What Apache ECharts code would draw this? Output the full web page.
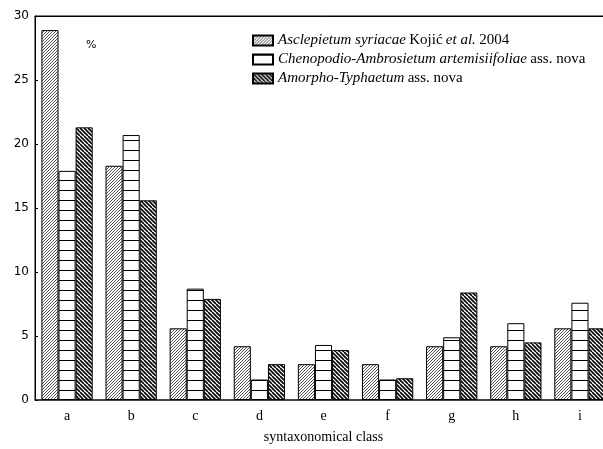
<!DOCTYPE html>
<html><head><meta charset="utf-8">
<script src="https://cdn.jsdelivr.net/npm/echarts@6/dist/echarts.min.js"></script>
<style>html,body{margin:0;padding:0;background:#fff;overflow:hidden;width:603px;height:449px}#c{width:612px;height:449px}</style>
</head><body><div id="c"></div>
<script>
var categories = ['a','b','c','d','e','f','g','h','i'];
var asclepietum = [28.9, 18.3, 5.6, 4.2, 2.8, 2.8, 4.2, 4.2, 5.6];
var chenopodio = [17.9, 20.7, 8.7, 1.6, 4.3, 1.6, 4.9, 6.0, 7.6];
var amorpho = [21.3, 15.6, 7.9, 2.8, 3.9, 1.7, 8.4, 4.5, 5.6];
var yTicks = [0, 5, 10, 15, 20, 25, 30];

function makePattern(kind) {
  var c = document.createElement('canvas');
  var s = kind === 'h' ? 10 : (kind === 'f' ? 6 : 8);
  c.width = s; c.height = s;
  var g = c.getContext('2d');
  g.fillStyle = '#fff'; g.fillRect(0, 0, s, s);
  if (kind === 'h') {
    g.fillStyle = '#000'; g.fillRect(0, 0, s, 1);
  } else if (kind === 'f') {
    g.strokeStyle = '#555'; g.lineWidth = 1;
    for (var o = -6; o <= 12; o += 3) { g.beginPath(); g.moveTo(o, 6); g.lineTo(o + 6, 0); g.stroke(); }
  } else {
    g.strokeStyle = '#000'; g.lineWidth = 1.6;
    for (var o2 = -8; o2 <= 16; o2 += 4) { g.beginPath(); g.moveTo(o2, 0); g.lineTo(o2 + 8, 8); g.stroke(); }
  }
  return { image: c, repeat: 'repeat' };
}

var legendText = {
  s1: '{i|Asclepietum syriacae} {r|Kojić} {i|et al.} {r|2004}',
  s2: '{i|Chenopodio-Ambrosietum artemisiifoliae} {r|ass. nova}',
  s3: '{i|Amorpho-Typhaetum} {r|ass. nova}'
};
var serif = 'Liberation Serif';
var chart = echarts.init(document.getElementById('c'), null, { renderer: 'canvas' });
var barStyle = function (k) { return { color: makePattern(k), borderColor: '#000', borderWidth: 1 }; };
chart.setOption({
  animation: false,
  backgroundColor: '#fff',
  grid: { left: 35, top: 16, bottom: 49, right: 0, outerBoundsMode: 'none', containLabel: false,
    show: true, borderColor: '#000', borderWidth: 1, backgroundColor: 'transparent' },
  legend: {
    orient: 'vertical', left: 252, top: 33, padding: 0, itemWidth: 20, itemHeight: 10, itemGap: 4,
    icon: 'rect', selectedMode: false,
    formatter: function (n) { return legendText[n]; },
    textStyle: {
      rich: {
        i: { fontFamily: serif, fontStyle: 'italic', fontSize: 15, color: '#000', lineHeight: 16 },
        r: { fontFamily: serif, fontSize: 15, color: '#000', lineHeight: 16 }
      }
    },
    data: ['s1', 's2', 's3']
  },
  graphic: [{ type: 'text', left: 86, top: 40, style: { text: '%', fontFamily: 'DejaVu Sans', fontSize: 11, fill: '#000' } }],
  xAxis: [{
    type: 'category', data: categories, position: 'bottom',
    axisLine: { lineStyle: { color: '#333', width: 1.5 } },
    axisTick: { inside: true, length: 3, lineStyle: { color: '#000' } },
    axisLabel: { fontFamily: serif, fontSize: 14, color: '#000', margin: 9 },
    name: 'syntaxonomical class', nameLocation: 'middle', nameGap: 30,
    nameTextStyle: { fontFamily: serif, fontSize: 14, color: '#000' }
  }, {
    type: 'category', data: categories, position: 'top',
    axisLine: { lineStyle: { color: '#000' } },
    axisTick: { inside: true, length: 3, lineStyle: { color: '#000' } },
    axisLabel: { show: false }
  }],
  yAxis: {
    type: 'value', min: yTicks[0], max: yTicks[yTicks.length - 1], interval: 5,
    axisLine: { show: true, lineStyle: { color: '#000' } },
    axisTick: { show: true, inside: true, length: 3, lineStyle: { color: '#000' } },
    splitLine: { show: false },
    axisLabel: { fontFamily: 'DejaVu Sans', fontSize: 12, color: '#000', margin: 6 }
  },
  series: [
    { name: 's1', type: 'bar', data: asclepietum, barGap: '0%', barCategoryGap: '20%', itemStyle: barStyle('f') },
    { name: 's2', type: 'bar', data: chenopodio, barGap: '0%', barCategoryGap: '20%', itemStyle: barStyle('h') },
    { name: 's3', type: 'bar', data: amorpho, barGap: '0%', barCategoryGap: '20%', itemStyle: barStyle('b') }
  ]
});
</script></body></html>
